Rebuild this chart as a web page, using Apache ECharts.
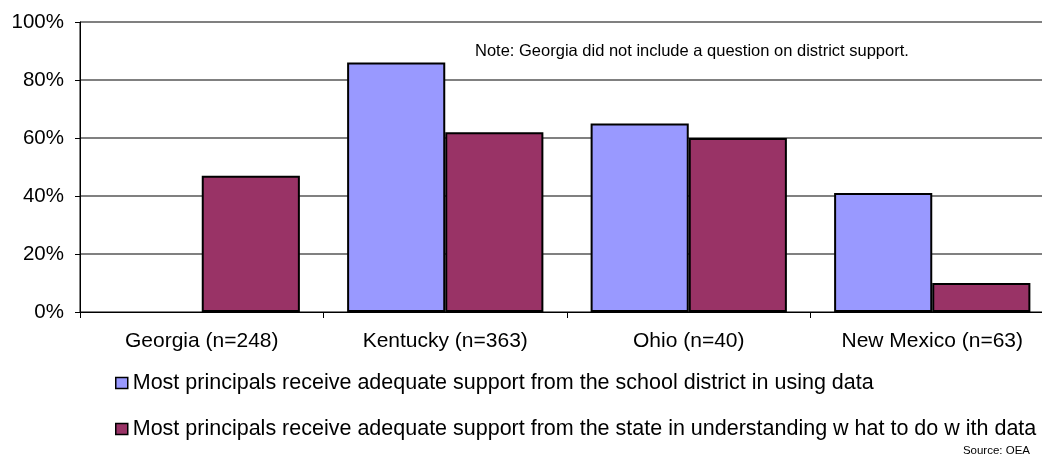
<!DOCTYPE html>
<html>
<head>
<meta charset="utf-8">
<script src="https://cdn.jsdelivr.net/npm/echarts@6/dist/echarts.min.js"></script>
<style>
  html, body { margin: 0; padding: 0; background: #fff; overflow: hidden; }
  /* canvas is a little wider than the window so the plot's right border falls outside */
  #chart { width: 1054px; height: 462px; }
</style>
</head>
<body>
<div id="chart"></div>
<script>
// Survey results by state (percent of principals)
const categories = ['Georgia (n=248)', 'Kentucky (n=363)', 'Ohio (n=40)', 'New Mexico (n=63)'];
const districtSupport = [null, 86, 65, 41];
const stateSupport = [47, 62, 60, 10];
const seriesNames = [
  'Most principals receive adequate support from the school district in using data',
  'Most principals receive adequate support from the state in understanding w hat to do w ith data'
];
const yTicks = [0, 20, 40, 60, 80, 100];
const noteText = 'Note: Georgia did not include a question on district support.';
const sourceText = 'Source: OEA';

const FONT = '"Liberation Sans", Arial, sans-serif';

const chart = echarts.init(document.getElementById('chart'));
chart.setOption({
  animation: false,
  backgroundColor: '#ffffff',
  textStyle: { fontFamily: FONT, color: '#000' },
  grid: { left: 80, right: 0, top: 22, bottom: 150, show: true, borderColor: '#000', borderWidth: 1 },
  legend: {
    orient: 'vertical',
    left: 110,
    top: 367,
    itemGap: 24,
    itemWidth: 12,
    itemHeight: 11,
    icon: 'rect',
    textStyle: { fontFamily: FONT, fontSize: 21.5, color: '#000', padding: [0, 0, 0, 0] },
    data: seriesNames.map(n => ({ name: n, itemStyle: { borderColor: '#000', borderWidth: 1.5 } }))
  },
  xAxis: {
    type: 'category',
    data: categories,
    axisLine: { lineStyle: { color: '#000', width: 1 } },
    axisTick: { show: true, length: 6, lineStyle: { color: '#000' } },
    axisLabel: { fontFamily: FONT, fontSize: 21, color: '#000', margin: 19 }
  },
  yAxis: {
    type: 'value',
    min: yTicks[0],
    max: yTicks[yTicks.length - 1],
    interval: 20,
    axisLine: { show: true, lineStyle: { color: '#000', width: 1 } },
    axisTick: { show: true, length: 5, lineStyle: { color: '#000' } },
    axisLabel: { fontFamily: FONT, fontSize: 20.5, color: '#000', margin: 16, formatter: v => v + '%' },
    splitLine: { show: true, lineStyle: { color: '#808080', width: 2 } }
  },
  series: [
    {
      name: seriesNames[0],
      type: 'bar',
      data: districtSupport,
      barGap: '0%',
      barCategoryGap: '19.4%',
      itemStyle: { color: '#9999FF', borderColor: '#000', borderWidth: 2 }
    },
    {
      name: seriesNames[1],
      type: 'bar',
      data: stateSupport,
      barGap: '0%',
      barCategoryGap: '19.4%',
      itemStyle: { color: '#993366', borderColor: '#000', borderWidth: 2 }
    }
  ],
  graphic: [
    {
      type: 'text',
      left: 475,
      top: 43,
      style: { text: noteText, fontFamily: FONT, fontSize: 16.5, fill: '#000' }
    },
    {
      type: 'text',
      right: 24,
      top: 445,
      style: { text: sourceText, fontFamily: FONT, fontSize: 11.5, fill: '#000' }
    }
  ]
});
</script>
</body>
</html>
